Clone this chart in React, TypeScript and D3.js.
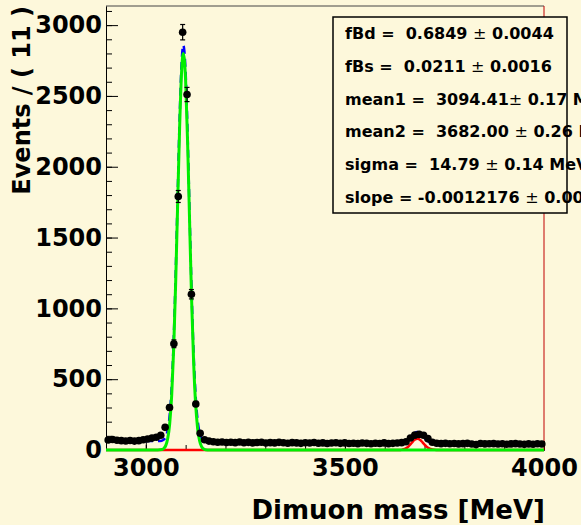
import React, { useEffect, useRef } from 'react';
import * as d3 from 'd3';

// Binning: 100 bins of 11 MeV between 2900 and 4000
const binLow = 2900;
const binWidth = 11;

// Events per bin
const counts = [
    71, 74, 69, 66, 64, 67, 63, 66, 72, 78, 84, 90, 104,
    160, 300, 750, 1790, 2950, 2510, 1100, 325, 118,
    72, 63, 58, 55, 57, 53, 55, 52, 56, 51, 54, 50, 53, 55, 49, 52, 50, 54, 51, 48,
    52, 50, 47, 51, 49, 53, 48, 50, 46, 49, 51, 47, 50, 46, 48, 45, 49, 47, 44, 48,
    46, 50, 45, 47, 49, 52,
    58, 85, 105, 110, 104, 80, 55,
    48, 45, 47, 44, 46, 43, 45, 47, 42, 38, 46, 43, 44, 45, 42, 44, 41, 43, 45, 42,
    40, 43, 41, 44, 42,
];

// Total fit model (blue dashed)
const totalCurve: [number, number][] = [
    [2900, 68], [2950, 66], [3000, 64], [3030, 63], [3040, 66], [3045, 73], [3050, 93],
    [3055, 143], [3060, 248], [3065, 449], [3070, 779], [3075, 1245], [3080, 1803],
    [3085, 2348], [3090, 2739], [3094, 2859], [3100, 2665], [3105, 2225], [3110, 1665],
    [3115, 1120], [3120, 684], [3125, 387], [3130, 213], [3135, 123], [3140, 82],
    [3145, 66], [3150, 60], [3200, 56], [3300, 54], [3400, 52], [3500, 50], [3600, 48],
    [3640, 47], [3650, 55], [3655, 62], [3660, 73], [3665, 88], [3670, 105], [3675, 119],
    [3682, 127], [3690, 116], [3695, 100], [3700, 84], [3705, 70], [3710, 59], [3715, 53],
    [3720, 49], [3730, 46], [3800, 45], [3900, 43], [4000, 42],
];

// J/psi component (green)
const jpsiCurve: [number, number][] = [
    [2900, 0], [3030, 0], [3040, 3], [3045, 11], [3050, 31], [3055, 81], [3060, 187],
    [3065, 388], [3070, 718], [3075, 1185], [3080, 1743], [3085, 2288], [3090, 2679],
    [3094, 2800], [3100, 2606], [3105, 2166], [3110, 1606], [3115, 1061], [3120, 626],
    [3125, 329], [3130, 155], [3135, 65], [3140, 24], [3145, 8], [3150, 2], [3160, 0],
    [4000, 0],
];

// psi(2S) component (red)
const psi2sCurve: [number, number][] = [
    [2900, 0], [3640, 0], [3645, 3], [3650, 8], [3655, 15], [3660, 26], [3665, 41],
    [3670, 58], [3675, 72], [3682, 80], [3690, 69], [3695, 54], [3700, 38], [3705, 24],
    [3710, 13], [3715, 7], [3720, 3], [3730, 0], [4000, 0],
];

const paramLines = [
    ['fBd =  0.6849 ', ' 0.0044'],
    ['fBs =  0.0211 ', ' 0.0016'],
    ['mean1 =  3094.41', ' 0.17 MeV'],
    ['mean2 =  3682.00 ', ' 0.26 MeV'],
    ['sigma =  14.79 ', ' 0.14 MeV'],
    ['slope = -0.0012176 ', ' 0.00'],
];

const W = 581;
const H = 525;
const BG = '#fdf8db';
const FONT = '"DejaVu Sans", sans-serif';

const App = () => {
    const svgRef = useRef<SVGSVGElement>(null);

    useEffect(() => {
        const svg = d3.select(svgRef.current);
        svg.selectAll('*').remove();

        const margin = { top: 6, right: 37, bottom: 75, left: 106 };
        const x0 = margin.left;
        const x1 = W - margin.right;
        const y0 = H - margin.bottom;
        const y1 = margin.top;

        const xScale = d3.scaleLinear().domain([2900, 4000]).range([x0, x1]);
        const yScale = d3.scaleLinear().domain([0, 3135]).range([y0, y1]);

        svg.append('rect').attr('width', W).attr('height', H).attr('fill', BG);

        // Axes
        const styleAxis = (g: any) => {
            g.select('.domain').attr('stroke', '#000').attr('stroke-width', 1);
            g.selectAll('line').attr('stroke', '#000').attr('stroke-width', 1);
            g.selectAll('text')
                .attr('fill', '#000')
                .style('font-family', FONT)
                .style('font-weight', 'bold')
                .style('font-size', '24px');
        };

        const yMinor = svg.append('g').attr('transform', `translate(${x0},0)`)
            .call(d3.axisLeft(yScale).ticks(30).tickSize(-6).tickSizeOuter(0).tickFormat(() => ''));
        styleAxis(yMinor);
        const yAxis = svg.append('g').attr('transform', `translate(${x0},0)`)
            .call(d3.axisLeft(yScale).ticks(6).tickSize(-12).tickSizeOuter(0).tickPadding(4)
                .tickFormat(d3.format('d')));
        styleAxis(yAxis);

        const xMinor = svg.append('g').attr('transform', `translate(0,${y0})`)
            .call(d3.axisBottom(xScale).ticks(11).tickSize(-5).tickSizeOuter(0).tickFormat(() => ''));
        styleAxis(xMinor);
        const xAxis = svg.append('g').attr('transform', `translate(0,${y0})`)
            .call(d3.axisBottom(xScale).ticks(3).tickSize(-9).tickSizeOuter(0).tickPadding(9)
                .tickFormat(d3.format('d')));
        styleAxis(xAxis);

        // Frame top and red line on the right
        svg.append('line')
            .attr('x1', x0).attr('x2', x1).attr('y1', y1).attr('y2', y1)
            .attr('stroke', '#444').attr('stroke-width', 1);
        svg.append('line')
            .attr('x1', x1).attr('x2', x1).attr('y1', y1).attr('y2', y0)
            .attr('stroke', '#c00000').attr('stroke-width', 1);

        // Fit curves
        const line = d3.line<[number, number]>()
            .x(d => xScale(d[0]))
            .y(d => yScale(d[1]))
            .curve(d3.curveMonotoneX);

        svg.append('path').datum(totalCurve)
            .attr('d', line).attr('fill', 'none')
            .attr('stroke', '#0000ff').attr('stroke-width', 2.5)
            .attr('stroke-dasharray', '8,5');
        svg.append('path').datum(psi2sCurve)
            .attr('d', line).attr('fill', 'none')
            .attr('stroke', '#ff0000').attr('stroke-width', 2.5);
        svg.append('path').datum(jpsiCurve)
            .attr('d', line).attr('fill', 'none')
            .attr('stroke', '#00ee00').attr('stroke-width', 3);

        // Data points with Poisson errors
        const points = counts.map((v, i) => ({ x: binLow + binWidth * (i + 0.5), y: v, e: Math.sqrt(v) }));
        const pts = svg.append('g');
        pts.selectAll('.err')
            .data(points)
            .enter()
            .append('line')
            .attr('x1', d => xScale(d.x)).attr('x2', d => xScale(d.x))
            .attr('y1', d => yScale(d.y - d.e)).attr('y2', d => yScale(d.y + d.e))
            .attr('stroke', '#000').attr('stroke-width', 1.2);
        pts.selectAll('.cap')
            .data(points.flatMap(d => [d.y - d.e, d.y + d.e].map(v => ({ x: d.x, v }))))
            .enter()
            .append('line')
            .attr('x1', d => xScale(d.x) - 2.5).attr('x2', d => xScale(d.x) + 2.5)
            .attr('y1', d => yScale(d.v)).attr('y2', d => yScale(d.v))
            .attr('stroke', '#000').attr('stroke-width', 1.2);
        pts.selectAll('circle')
            .data(points)
            .enter()
            .append('circle')
            .attr('cx', d => xScale(d.x))
            .attr('cy', d => yScale(d.y))
            .attr('r', 3.8)
            .attr('fill', '#000');

        // Parameter box
        svg.append('rect')
            .attr('x', 333).attr('y', 17).attr('width', 234).attr('height', 196)
            .attr('fill', BG).attr('stroke', '#000').attr('stroke-width', 1.5);
        const rowH = 196 / paramLines.length;
        paramLines.forEach((p, i) => {
            const t = svg.append('text')
                .attr('x', 345)
                .attr('y', 17 + rowH * (i + 0.5) + 6)
                .attr('xml:space', 'preserve')
                .style('white-space', 'pre')
                .style('font-family', FONT)
                .style('font-size', '16px')
                .style('font-weight', 'bold')
                .attr('fill', '#000');
            t.append('tspan').text(p[0]);
            t.append('tspan').style('font-weight', 'normal').text('±');
            t.append('tspan').text(p[1]);
        });

        // Axis titles
        svg.append('text')
            .attr('x', 545).attr('y', 519)
            .attr('text-anchor', 'end')
            .style('font-family', FONT).style('font-weight', 'bold').style('font-size', '26px')
            .attr('fill', '#000')
            .text('Dimuon mass [MeV]');
        svg.append('text')
            .attr('transform', 'translate(30,6) rotate(-90)')
            .attr('text-anchor', 'end')
            .style('font-family', FONT).style('font-weight', 'bold').style('font-size', '24px')
            .attr('fill', '#000')
            .text('Events / ( 11 )');
    }, []);

    return (
        <svg
            ref={svgRef}
            width={W}
            height={H}
            style={{ position: 'absolute', left: 0, top: 0, display: 'block' }}
        />
    );
};

export default App;
